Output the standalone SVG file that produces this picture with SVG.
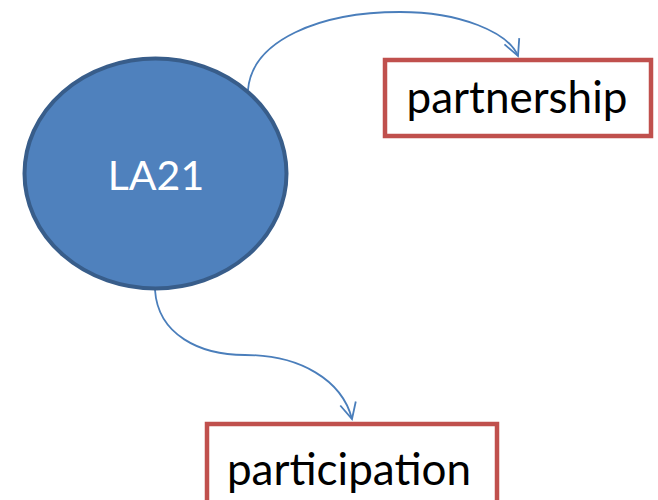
<svg xmlns="http://www.w3.org/2000/svg" width="658" height="500" viewBox="0 0 658 500">
<defs>
<style>
.conn{fill:none;stroke:#4a7ebb;stroke-width:1.8}
.box{fill:#ffffff;stroke:#c0504d;stroke-width:4.5}
.lbl{font-family:Lato,"Open Sans",sans-serif;fill:#000000;text-anchor:middle}
</style>
<marker id="arr" viewBox="0 0 20 20" refX="18" refY="10" markerWidth="20" markerHeight="20" markerUnits="userSpaceOnUse" orient="auto">
<path d="M2,2 L18,10 L2,18" fill="none" stroke="#4a7ebb" stroke-width="1.8"/>
</marker>
</defs>
<rect width="658" height="500" fill="#ffffff"/>
<g id="connectors">
<path class="conn" d="M248,90 C252,40 320,12 400,12 C460,12 508,32 518,56" marker-end="url(#arr)"/>
<path class="conn" d="M155,290 C158,335 200,355 245,355 C300,355 342,380 352,419" marker-end="url(#arr)"/>
</g>
<g id="la21">
<ellipse cx="155.5" cy="173.5" rx="131" ry="115" fill="#4f81bd" stroke="#385d8a" stroke-width="4"/>
<text x="156" y="190" font-family="Lato,'Open Sans',sans-serif" font-size="41" fill="#ffffff" text-anchor="middle">LA21</text>
</g>
<g id="partnership">
<rect class="box" x="385" y="60" width="266" height="76"/>
<text class="lbl" x="517" y="113" font-size="44">partnership</text>
</g>
<g id="participation">
<rect class="box" x="207" y="424" width="290" height="90"/>
<text class="lbl" x="349" y="485" font-size="44">participation</text>
</g>
</svg>
